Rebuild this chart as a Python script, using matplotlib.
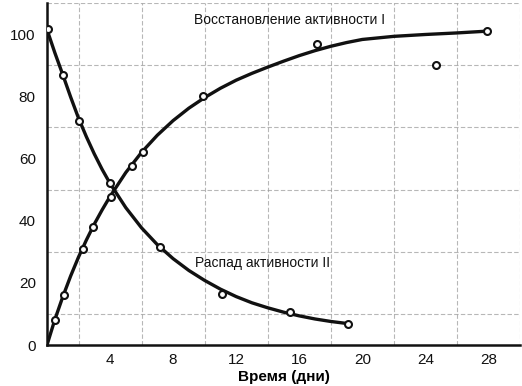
import matplotlib.pyplot as plt

plt.rcParams["font.family"] = ["Liberation Sans", "DejaVu Sans"]

# measured points
rec_t = [0.5, 1.1, 2.3, 2.9, 4.05, 5.4, 6.1, 9.9, 17.1, 27.9]
rec_y = [8, 16, 31, 38, 47.7, 57.5, 62, 80, 96.8, 101]
outlier_t = [24.7]
outlier_y = [90]

dec_t = [0.05, 1.0, 2.0, 4.0, 7.15, 11.1, 15.4, 19.1]
dec_y = [101.6, 86.8, 72, 52, 31.6, 16.5, 10.6, 6.8]

# smooth curves as drawn in the picture
rec_curve_t = [0, 0.5, 1, 1.5, 2, 2.5, 3, 3.5, 4, 5, 6, 7, 8, 9, 10, 11, 12, 13,
               14, 15, 16, 17, 18, 19, 20, 22, 24, 26, 28]
rec_curve_y = [0, 8.2, 15.5, 22.2, 28.3, 33.8, 38.9, 43.5, 47.8, 55.5, 62, 67.5,
               72.2, 76.2, 79.6, 82.6, 85.2, 87.4, 89.4, 91.3, 93.1, 94.7, 96.1,
               97.3, 98.3, 99.3, 99.9, 100.4, 101]
dec_curve_t = [0, 0.5, 1, 1.5, 2, 2.5, 3, 3.5, 4, 5, 6, 7, 8, 9, 10, 11, 12, 13,
               14, 15, 16, 17, 18, 19.1]
dec_curve_y = [101.5, 94, 87, 79.8, 73, 67, 61.5, 56.5, 52, 44.2, 37.7, 32.3,
               27.8, 24, 20.8, 18, 15.6, 13.6, 12, 10.6, 9.4, 8.4, 7.6, 6.9]

x_ticks = [4, 8, 12, 16, 20, 24, 28]
y_ticks = [0, 20, 40, 60, 80, 100]

fig = plt.figure(figsize=(5.22, 3.86), dpi=100)
ax = fig.add_axes([0.090, 0.106, 0.906, 0.886])

ax.plot(rec_curve_t, rec_curve_y, color="#111111", lw=2.4, zorder=3)
ax.plot(dec_curve_t, dec_curve_y, color="#111111", lw=2.4, zorder=3)
marker_style = dict(ls="none", marker="o", ms=5, mfc="white", mec="#111111", mew=1.5, zorder=4)
ax.plot(rec_t, rec_y, **marker_style)
ax.plot(dec_t, dec_y, **marker_style)
ax.plot(outlier_t, outlier_y, **marker_style)

ax.text(9.3, 104.5, "Восстановление активности I", fontsize=10, va="center", color="#111111")
ax.text(9.4, 26.3, "Распад активности II", fontsize=10, va="center", color="#111111")

ax.set_xlim(0, 30)
ax.set_ylim(0, 110)
ax.set_xticks(x_ticks)
ax.set_yticks(y_ticks)
ax.set_xticks(range(0, 31, 2), minor=True)
ax.set_yticks(range(0, 111, 10), minor=True)
ax.tick_params(which="both", length=0, labelsize=11, colors="#111111")
ax.tick_params(axis="y", pad=8)
ax.tick_params(axis="x", pad=6)
ax.grid(which="minor", color="#999999", lw=0.8, ls=(0, (4, 2)), alpha=0.7)
ax.set_axisbelow(True)

for side in ["top", "right"]:
    ax.spines[side].set_visible(False)
for side in ["left", "bottom"]:
    ax.spines[side].set_linewidth(1.8)
    ax.spines[side].set_color("#111111")

ax.set_xlabel("Время (дни)", fontsize=11, fontweight="bold", labelpad=2)

fig.savefig("out.png", dpi=100)
